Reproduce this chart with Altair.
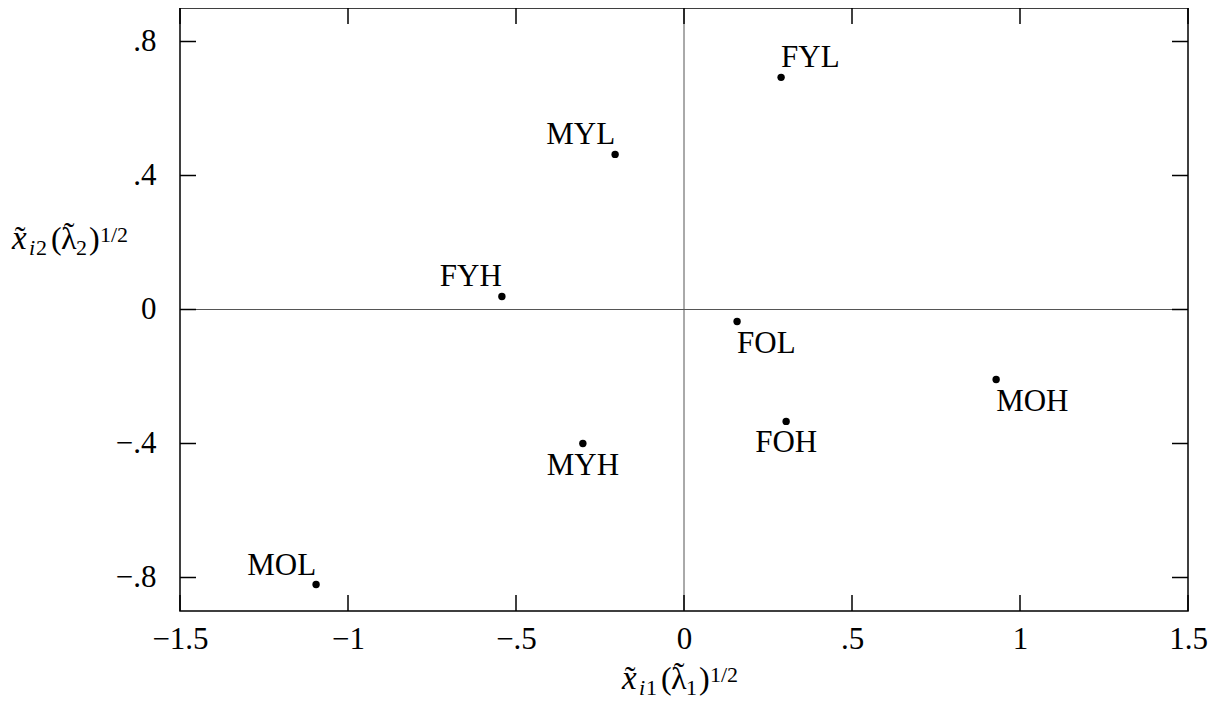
import altair as alt
import pandas as pd

labels = ["FYL", "MYL", "FYH", "FOL", "MOH", "FOH", "MYH", "MOL"]
dim1 = [0.289, -0.205, -0.542, 0.158, 0.929, 0.304, -0.301, -1.095]
dim2 = [0.693, 0.463, 0.039, -0.036, -0.209, -0.334, -0.400, -0.821]
x_ticks = [-1.5, -1, -0.5, 0, 0.5, 1, 1.5]
x_tick_labels = ["\u22121.5", "\u22121", "\u2212.5", "0", ".5", "1", "1.5"]
y_ticks = [-0.8, -0.4, 0, 0.4, 0.8]
y_tick_labels = ["\u2212.8", "\u2212.4", "0", ".4", ".8"]

W, H = 1008, 603
FONT = "Liberation Serif"
FS = 31
TL = 16
OX, OY = 180, 8  # page position of the plot origin

df = pd.DataFrame({"label": labels, "d1": dim1, "d2": dim2})
xs = alt.Scale(domain=[-1.5, 1.5], nice=False, zero=False)
ys = alt.Scale(domain=[-0.9, 0.9], nice=False, zero=False)


def label_expr(vals, labs):
    expr = "''"
    for v, l in reversed(list(zip(vals, labs))):
        expr = f"datum.value == {v} ? '{l}' : ({expr})"
    return expr


x_axis = alt.Axis(values=x_ticks, labelExpr=label_expr(x_ticks, x_tick_labels), labelFont=FONT,
                  labelFontSize=FS, labelColor="black", labelPadding=13, ticks=False, tickSize=0,
                  domain=False, grid=False, labelFlush=False, labelOverlap=False, title=None)
y_axis = alt.Axis(values=y_ticks, labelExpr=label_expr(y_ticks, y_tick_labels), labelFont=FONT,
                  labelFontSize=FS, labelColor="black", labelPadding=24, ticks=False, tickSize=0,
                  domain=False, grid=False, labelFlush=False, labelOverlap=False,
                  labelBaseline="middle", title=None)

base = alt.Chart(df).encode(
    x=alt.X("d1:Q", scale=xs, axis=x_axis),
    y=alt.Y("d2:Q", scale=ys, axis=y_axis),
)
points = base.mark_circle(size=55, color="black", opacity=1)


def lbl(names, align, dy):
    return base.mark_text(align=align, baseline="alphabetic", dy=dy, font=FONT,
                          fontSize=FS, color="black").encode(
        text="label:N").transform_filter(alt.FieldOneOfPredicate(field="label", oneOf=names))


texts = [
    lbl(["FYL"], "left", -10),
    lbl(["FYH", "MYL", "MOL"], "right", -10),
    lbl(["FOL", "MOH"], "left", 31),
    lbl(["FOH", "MYH"], "center", 31),
]

zero_df = pd.DataFrame({"v": [0]})
zero_x = alt.Chart(zero_df).mark_rule(color="#555555", strokeWidth=1).encode(
    x=alt.X("v:Q", scale=xs, axis=x_axis))
zero_y = alt.Chart(zero_df).mark_rule(color="#555555", strokeWidth=1).encode(
    y=alt.Y("v:Q", scale=ys, axis=y_axis))

xt = pd.DataFrame({"t": x_ticks})
yt = pd.DataFrame({"t": y_ticks})
tick_style = dict(color="black", strokeWidth=1.5)
xt_bottom = alt.Chart(xt).mark_rule(**tick_style).encode(
    x=alt.X("t:Q", scale=xs, axis=x_axis), y=alt.value(H), y2=alt.value(H - TL))
xt_top = alt.Chart(xt).mark_rule(**tick_style).encode(
    x=alt.X("t:Q", scale=xs, axis=x_axis), y=alt.value(0), y2=alt.value(TL))
yt_left = alt.Chart(yt).mark_rule(**tick_style).encode(
    y=alt.Y("t:Q", scale=ys, axis=y_axis), x=alt.value(0), x2=alt.value(TL))
yt_right = alt.Chart(yt).mark_rule(**tick_style).encode(
    y=alt.Y("t:Q", scale=ys, axis=y_axis), x=alt.value(W - TL), x2=alt.value(W))

# Axis titles typeset as math: x~_{i k} (lambda~_k)^{1/2}
one = pd.DataFrame({"o": [0]})


def piece(text, px, py, size, italic=False, align="left"):
    return alt.Chart(one).mark_text(
        text=text, align=align, baseline="alphabetic", font=FONT, fontSize=size,
        fontStyle="italic" if italic else "normal", color="black",
    ).encode(x=alt.value(px - OX), y=alt.value(py - OY))


def math_title(x0, b, k):
    return [
        piece("x", x0 + 1, b, 33, italic=True),
        piece("\u02dc", x0 + 9, b - 1, 32, align="center"),
        piece("i", x0 + 18, b + 6, 22, italic=True),
        piece(k, x0 + 25, b + 6, 22),
        piece("(", x0 + 40, b, 32),
        piece("\u03bb", x0 + 50, b, 32),
        piece("\u02dc", x0 + 58, b - 5, 32, align="center"),
        piece(k, x0 + 65, b + 6, 22),
        piece(")", x0 + 78, b, 32),
        piece("1/2", x0 + 89, b - 7, 22),
    ]


titles = math_title(621, 689, "1") + math_title(11, 249, "2")

chart = alt.layer(zero_x, zero_y, xt_bottom, xt_top, yt_left, yt_right, points, *texts,
                  *titles).properties(
    width=W, height=H,
    padding={"left": 172, "top": 0, "right": 21, "bottom": 85},
    autosize=alt.AutoSizeParams(type="none"),
    background="white",
).configure_view(stroke="black", strokeWidth=1.5)

chart.save("out.html", embed_options={"renderer": "svg", "actions": False})
